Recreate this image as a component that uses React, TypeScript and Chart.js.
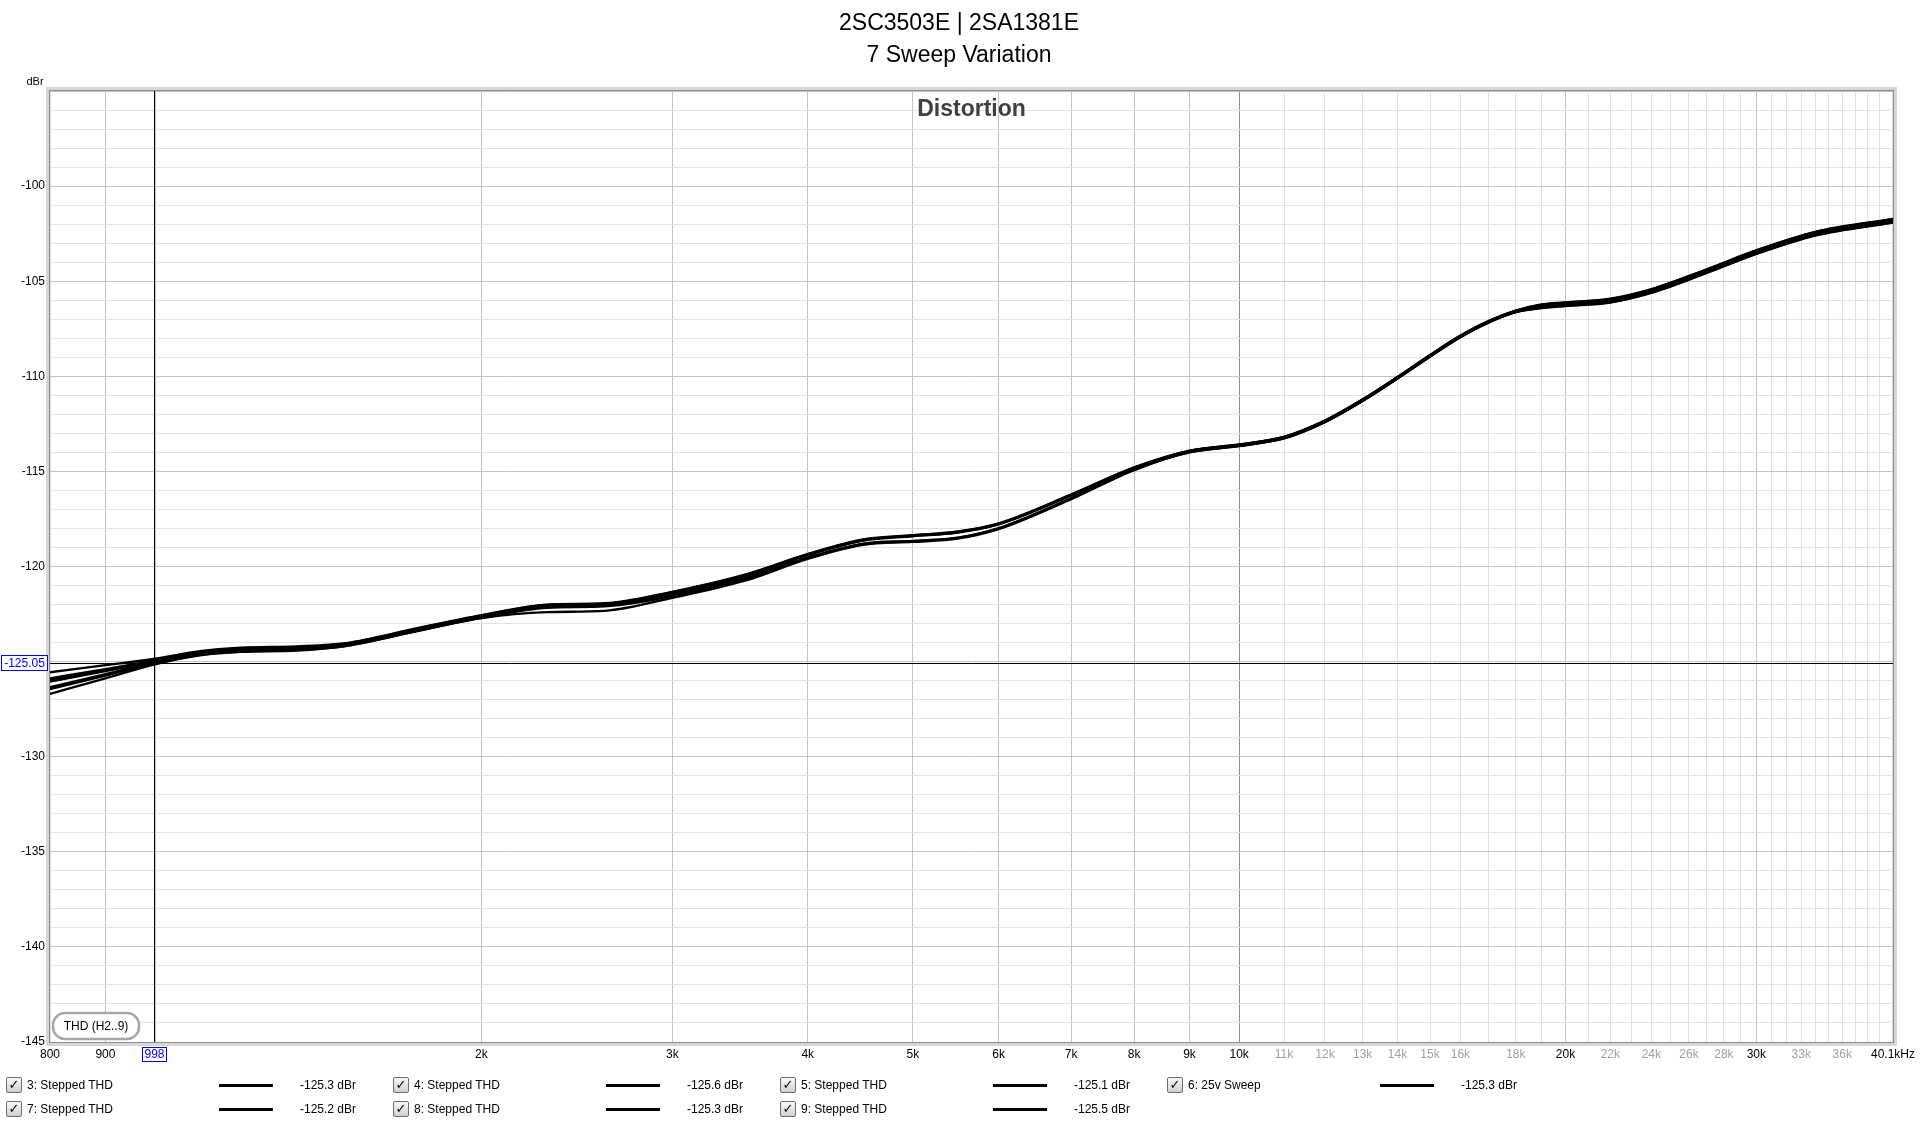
import React, { useEffect, useRef } from "react";
import { Chart, registerables } from "chart.js";

Chart.register(...registerables);

const FONT = '"Liberation Sans", Arial, sans-serif';

// ---------- data ----------
const FREQS = [800, 900, 1000, 1100, 1200, 1350, 1500, 1750, 2000, 2300, 2600, 3000, 3500, 4000, 4500, 5000, 5500, 6000, 7000, 8000, 9000, 10000, 11000, 12000, 13000, 14000, 15000, 16000, 17000, 18000, 19000, 20000, 22000, 24000, 27000, 30000, 34000, 40100];

const S3 = [-126.05, -125.5, -125.0, -124.55, -124.37, -124.3, -124.1, -123.3, -122.63, -122.07, -122.0, -121.45, -120.55, -119.4, -118.62, -118.39, -118.2, -117.77, -116.25, -114.85, -113.95, -113.62, -113.22, -112.36, -111.25, -110.07, -108.92, -107.9, -107.12, -106.58, -106.3, -106.19, -106.0, -105.5, -104.45, -103.45, -102.48, -101.8];
const S4 = [-126.7, -125.88, -125.15, -124.65, -124.47, -124.4, -124.18, -123.38, -122.71, -122.4, -122.33, -121.65, -120.75, -119.6, -118.86, -118.71, -118.54, -118.04, -116.46, -114.93, -114.0, -113.67, -113.27, -112.41, -111.3, -110.12, -108.97, -107.95, -107.17, -106.63, -106.4, -106.29, -106.1, -105.6, -104.55, -103.55, -102.58, -101.9];
const S5 = [-125.56, -125.19, -124.85, -124.45, -124.27, -124.2, -124.03, -123.23, -122.56, -122.0, -121.93, -121.33, -120.43, -119.35, -118.58, -118.35, -118.16, -117.73, -116.21, -114.79, -113.91, -113.58, -113.18, -112.32, -111.21, -110.03, -108.88, -107.86, -107.08, -106.54, -106.24, -106.13, -105.94, -105.44, -104.39, -103.39, -102.42, -101.74];
const S6 = [-125.95, -125.45, -125.0, -124.52, -124.34, -124.27, -124.08, -123.28, -122.61, -122.05, -121.98, -121.4, -120.5, -119.4, -118.64, -118.41, -118.22, -117.79, -116.27, -114.83, -113.93, -113.6, -113.2, -112.34, -111.23, -110.05, -108.9, -107.88, -107.1, -106.56, -106.27, -106.16, -105.97, -105.47, -104.42, -103.42, -102.45, -101.77];
const S7 = [-126.35, -125.66, -125.05, -124.6, -124.42, -124.35, -124.14, -123.34, -122.67, -122.13, -122.06, -121.51, -120.61, -119.53, -118.8, -118.65, -118.48, -117.98, -116.4, -114.9, -113.98, -113.65, -113.25, -112.39, -111.28, -110.1, -108.95, -107.93, -107.15, -106.61, -106.36, -106.25, -106.06, -105.56, -104.51, -103.51, -102.54, -101.86];
const S8 = [-125.88, -125.39, -124.93, -124.49, -124.31, -124.24, -124.05, -123.25, -122.58, -122.02, -121.95, -121.35, -120.45, -119.35, -118.6, -118.37, -118.18, -117.75, -116.23, -114.81, -113.92, -113.59, -113.19, -112.33, -111.22, -110.04, -108.89, -107.87, -107.09, -106.55, -106.22, -106.11, -105.92, -105.42, -104.37, -103.37, -102.4, -101.72];
const S9 = [-126.45, -125.74, -125.1, -124.67, -124.49, -124.42, -124.17, -123.37, -122.7, -122.17, -122.1, -121.57, -120.67, -119.57, -118.82, -118.67, -118.5, -118.0, -116.42, -114.92, -113.99, -113.66, -113.26, -112.4, -111.29, -110.11, -108.96, -107.94, -107.16, -106.62, -106.42, -106.31, -106.12, -105.62, -104.57, -103.57, -102.6, -101.92];

const SERIES = [S3, S4, S5, S6, S7, S8, S9];
const SERIES_NAMES = ["3: Stepped THD", "4: Stepped THD", "5: Stepped THD", "6: 25v Sweep", "7: Stepped THD", "8: Stepped THD", "9: Stepped THD"];
const LEGEND_VALUES = ["-125.3 dBr", "-125.6 dBr", "-125.1 dBr", "-125.3 dBr", "-125.2 dBr", "-125.3 dBr", "-125.5 dBr"];

const TITLE_LINES = ["2SC3503E | 2SA1381E", "7 Sweep Variation"];

const X_GRID = [800, 900, 1000, 2000, 3000, 4000, 5000, 6000, 7000, 8000, 9000, 10000,
  11000, 12000, 13000, 14000, 15000, 16000, 17000, 18000, 19000, 20000,
  21000, 22000, 23000, 24000, 25000, 26000, 27000, 28000, 29000, 30000,
  31000, 32000, 33000, 34000, 35000, 36000, 37000, 38000, 39000, 40100];
const X_LABELS: Record<number, string> = {
  800: "800", 900: "900", 2000: "2k", 3000: "3k", 4000: "4k", 5000: "5k", 6000: "6k", 7000: "7k", 8000: "8k", 9000: "9k", 10000: "10k",
  11000: "11k", 12000: "12k", 13000: "13k", 14000: "14k", 15000: "15k", 16000: "16k", 18000: "18k", 20000: "20k",
  22000: "22k", 24000: "24k", 26000: "26k", 28000: "28k", 30000: "30k", 33000: "33k", 36000: "36k", 40100: "40.1kHz",
};
const X_GRAY_LABELS = [11000, 12000, 13000, 14000, 15000, 16000, 18000, 22000, 24000, 26000, 28000, 33000, 36000];
const X_MEDIUM_GRID = [900, 1000, 2000, 3000, 4000, 5000, 6000, 7000, 8000, 9000, 20000, 30000];

const Y_MIN = -145;
const Y_MAX = -95;
const Y_TICKS = Array.from({ length: Y_MAX - Y_MIN + 1 }, (_, i) => Y_MIN + i);

const CURSOR_FREQ = 998;
const CURSOR_DB = -125.05;

// ---------- plugin for decorations ----------
const decorPlugin = {
  id: "decor",
  afterDatasetsDraw(chart: any) {
    const { ctx, chartArea: a, scales } = chart;
    const cx = Math.round(scales.x.getPixelForValue(CURSOR_FREQ)) + 0.5;
    const cy = Math.round(scales.y.getPixelForValue(CURSOR_DB)) + 0.5;
    ctx.save();
    ctx.strokeStyle = "#000";
    ctx.lineWidth = 1;
    ctx.beginPath();
    ctx.moveTo(cx, a.top);
    ctx.lineTo(cx, a.bottom);
    ctx.moveTo(a.left, cy);
    ctx.lineTo(a.right, cy);
    ctx.stroke();
    ctx.restore();
  },
  afterDraw(chart: any) {
    const { ctx, chartArea: a, scales } = chart;
    const w = a.right - a.left;
    const h = a.bottom - a.top;
    ctx.save();
    // frame
    ctx.strokeStyle = "#d6d6d6";
    ctx.lineWidth = 3;
    ctx.strokeRect(a.left - 2.5, a.top - 2.5, w + 5, h + 5);
    ctx.strokeStyle = "#8c8c8c";
    ctx.lineWidth = 1;
    ctx.strokeRect(a.left - 0.5, a.top - 0.5, w + 1, h + 1);

    // Distortion
    ctx.fillStyle = "#404040";
    ctx.font = `bold 23px ${FONT}`;
    ctx.textAlign = "center";
    ctx.textBaseline = "middle";
    ctx.fillText("Distortion", (a.left + a.right) / 2, a.top + 19);

    // dBr
    ctx.fillStyle = "#000";
    ctx.font = `11px ${FONT}`;
    ctx.fillText("dBr", 35, 82);

    // cursor labels
    const cx = Math.round(scales.x.getPixelForValue(CURSOR_FREQ));
    const cy = Math.round(scales.y.getPixelForValue(CURSOR_DB));
    ctx.font = `12px ${FONT}`;
    ctx.fillStyle = "#fff";
    ctx.fillRect(1, cy - 8, 47, 16);
    ctx.strokeStyle = "#0000ff";
    ctx.strokeRect(1.5, cy - 7.5, 46, 15);
    ctx.fillStyle = "#0000ff";
    ctx.fillText(CURSOR_DB.toFixed(2), 24.5, cy + 0.5);

    const bx = cx - 12;
    const by = a.bottom + 5;
    ctx.fillStyle = "#fff";
    ctx.fillRect(bx, by, 25, 15);
    ctx.strokeStyle = "#0000ff";
    ctx.strokeRect(bx + 0.5, by + 0.5, 24, 14);
    ctx.fillStyle = "#0000ff";
    ctx.fillText(String(CURSOR_FREQ), cx + 0.5, by + 8);

    // THD box
    const tx = a.left + 3, ty = a.bottom - 29, tw = 86, th = 26, r = 12;
    ctx.beginPath();
    ctx.moveTo(tx + r, ty);
    ctx.lineTo(tx + tw - r, ty);
    ctx.arcTo(tx + tw, ty, tx + tw, ty + r, r);
    ctx.lineTo(tx + tw, ty + th - r);
    ctx.arcTo(tx + tw, ty + th, tx + tw - r, ty + th, r);
    ctx.lineTo(tx + r, ty + th);
    ctx.arcTo(tx, ty + th, tx, ty + th - r, r);
    ctx.lineTo(tx, ty + r);
    ctx.arcTo(tx, ty, tx + r, ty, r);
    ctx.closePath();
    ctx.fillStyle = "#fff";
    ctx.fill();
    ctx.strokeStyle = "#a6a6a6";
    ctx.lineWidth = 2.5;
    ctx.stroke();
    ctx.fillStyle = "#000";
    ctx.font = `12px ${FONT}`;
    ctx.fillText("THD (H2..9)", tx + tw / 2, ty + th / 2 + 1);
    ctx.restore();
  },
};

function xGridColor(v: number) {
  if (v === 10000) return "#8c8c8c";
  if (X_MEDIUM_GRID.includes(v)) return "#c4c4c4";
  return "#e0e0e0";
}

const COL_STEP = 387;
const ROW_Y = [1085, 1109];

function LegendItem({ idx }: { idx: number }) {
  const row = idx < 4 ? 0 : 1;
  const col = idx < 4 ? idx : idx - 4;
  const left = col * COL_STEP;
  const top = ROW_Y[row] - 8;
  const textStyle: React.CSSProperties = {
    position: "absolute",
    top: 0,
    height: 16,
    lineHeight: "16px",
    fontSize: 12,
    fontFamily: FONT,
    color: "#000",
    whiteSpace: "nowrap",
  };
  return (
    <div style={{ position: "absolute", left, top, width: COL_STEP, height: 16 }}>
      <div
        style={{
          position: "absolute",
          left: 6,
          top: 0,
          width: 14,
          height: 14,
          border: "1px solid #6e6e6e",
          borderRadius: 2,
          background: "linear-gradient(#fafafa, #cfcfcf)",
          fontSize: 13,
          lineHeight: "14px",
          textAlign: "center",
          fontFamily: '"DejaVu Sans", sans-serif',
          color: "#000",
          fontWeight: "bold",
        }}
      >
        ✓
      </div>
      <div style={{ ...textStyle, left: 27 }}>{SERIES_NAMES[idx]}</div>
      <div style={{ position: "absolute", left: 219, top: 7, width: 54, height: 3, background: "#000" }} />
      <div style={{ ...textStyle, left: 300 }}>{LEGEND_VALUES[idx]}</div>
    </div>
  );
}

export default function App() {
  const canvasRef = useRef<HTMLCanvasElement | null>(null);

  useEffect(() => {
    document.body.style.margin = "0";
    document.body.style.overflow = "hidden";
    const canvas = canvasRef.current;
    if (!canvas) return;

    const datasets = SERIES.map((s, si) => ({
      label: SERIES_NAMES[si],
      data: FREQS.map((f, i) => ({ x: f, y: s[i] })),
      borderColor: "#000",
      backgroundColor: "#000",
      borderWidth: 2.3,
      pointRadius: 0,
      cubicInterpolationMode: "monotone" as const,
      fill: false,
    }));

    const chart = new Chart(canvas, {
      type: "line",
      data: { datasets },
      options: {
        responsive: false,
        animation: false,
        devicePixelRatio: 1,
        layout: { padding: { top: 91, right: 25, left: 0, bottom: 0 } },
        plugins: {
          legend: { display: false },
          tooltip: { enabled: false },
          title: { display: false },
        },
        events: [],
        scales: {
          x: {
            type: "logarithmic",
            min: 800,
            max: 40100,
            afterBuildTicks: (s: any) => {
              s.ticks = X_GRID.map((v) => ({ value: v }));
            },
            afterFit: (s: any) => {
              s.height = 82;
            },
            border: { display: false },
            grid: {
              drawTicks: false,
              lineWidth: 1,
              color: (c: any) => xGridColor(c.tick ? c.tick.value : 0),
            },
            ticks: {
              autoSkip: false,
              maxRotation: 0,
              minRotation: 0,
              padding: 5,
              font: { size: 12, family: FONT },
              color: (c: any) => (c.tick && X_GRAY_LABELS.includes(c.tick.value) ? "#a0a0a0" : "#000"),
              callback: (v: any) => X_LABELS[Number(v)] ?? "",
            },
          },
          y: {
            type: "linear",
            min: Y_MIN,
            max: Y_MAX,
            afterBuildTicks: (s: any) => {
              s.ticks = Y_TICKS.map((v) => ({ value: v }));
            },
            afterFit: (s: any) => {
              s.width = 50;
            },
            border: { display: false },
            grid: {
              drawTicks: false,
              lineWidth: 1,
              color: (c: any) => (c.tick && c.tick.value % 5 === 0 ? "#c4c4c4" : "#e2e2e2"),
            },
            ticks: {
              autoSkip: false,
              padding: 5,
              font: { size: 12, family: FONT },
              color: "#000",
              callback: (v: any) => (Number(v) % 5 === 0 && Number(v) !== Y_MAX ? String(v) : ""),
            },
          },
        },
      } as any,
      plugins: [decorPlugin],
    });

    return () => chart.destroy();
  }, []);

  return (
    <div style={{ position: "relative", width: 1920, height: 1124, background: "#fff", overflow: "hidden" }}>
      <canvas ref={canvasRef} width={1920} height={1124} style={{ position: "absolute", left: 0, top: 0, width: 1920, height: 1124 }} />
      <div
        style={{
          position: "absolute",
          left: 0,
          top: 6,
          width: 1918,
          textAlign: "center",
          fontFamily: FONT,
          fontSize: 23,
          lineHeight: "32px",
          color: "#000",
        }}
      >
        {TITLE_LINES.map((t) => (
          <div key={t}>{t}</div>
        ))}
      </div>
      {SERIES_NAMES.map((_, i) => (
        <LegendItem key={i} idx={i} />
      ))}
    </div>
  );
}
